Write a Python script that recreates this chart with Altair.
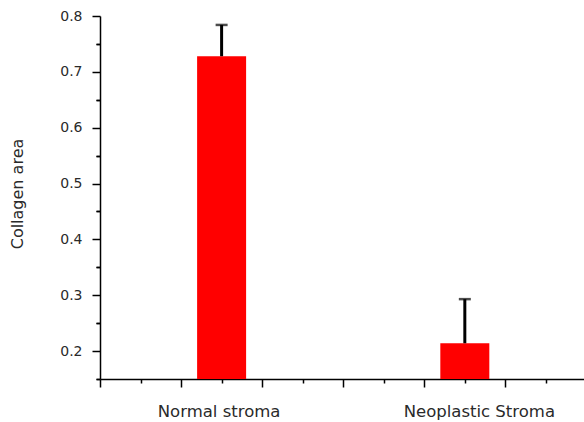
import altair as alt
import pandas as pd

categories = ["Normal stroma", "Neoplastic Stroma"]
positions = [1.5, 4.5]
means = [0.728, 0.214]
errors = [0.056, 0.079]
label_shift = [-3, 14]

y_major = [0.2, 0.3, 0.4, 0.5, 0.6, 0.7, 0.8]
y_minor = [0.15, 0.25, 0.35, 0.45, 0.55, 0.65, 0.75]
x_major = [0, 1, 2, 3, 4, 5]
x_minor = [0.5, 1.5, 2.5, 3.5, 4.5, 5.5]

df = pd.DataFrame({
    "cat": categories,
    "pos": positions,
    "mean": means,
    "top": [m + e for m, e in zip(means, errors)],
})

W, H = 484, 363
FONT = "DejaVu Sans"
TXT = "#2a2a2a"

common = dict(tickWidth=1.5, tickColor="black", domain=False, grid=False, title=None, offset=0)

x_axis_major = alt.Axis(values=x_major, tickSize=8, labels=False, orient="bottom",
                        tickWidth=1.5, tickColor="black", domainColor="black", domainWidth=1.5,
                        grid=False, title=None, offset=0)
x_axis_minor = alt.Axis(values=x_minor, tickSize=4, labels=False, orient="bottom", **common)

label_expr = " : ".join(
    f"abs(datum.value - {p}) < 0.01 ? '{c}'" for c, p in zip(categories, positions)
) + " : ''"
offset_cond = {"condition": {"test": f"abs(datum.value - {positions[1]}) < 0.01", "value": label_shift[1]},
               "value": label_shift[0]}
x_axis_labels = alt.Axis(
    values=positions, labelExpr=label_expr, labelOffset=offset_cond,
    ticks=False, tickSize=0, domain=False, orient="bottom", offset=0,
    labelFont=FONT, labelFontSize=16.5, labelColor=TXT, labelPadding=24,
    labelAngle=0, grid=False, title=None, labelOverlap=False, labelBound=False, labelFlush=False,
)

y_axis_major = alt.Axis(
    values=y_major, format=".1f", tickSize=8, orient="left", offset=0,
    labelFont=FONT, labelFontSize=14, labelColor=TXT, labelPadding=10, labelOverlap=False,
    tickWidth=1.5, tickColor="black", domainColor="black", domainWidth=1.5, grid=False,
    title="Collagen area", titleFont=FONT, titleFontSize=16, titleFontWeight="normal",
    titleColor=TXT, titleX=-75, titleY=H / 2 - 4,
)
y_axis_minor = alt.Axis(values=y_minor, tickSize=4, labels=False, orient="left", **common)
y_axis_none = alt.Axis(values=y_minor, tickSize=4, labels=False, orient="left", **common)

xs = alt.Scale(domain=[0, 5.97], nice=False, zero=False, padding=0)
ys = alt.Scale(domain=[0.15, 0.8], nice=False, zero=False, padding=0)

base = alt.Chart(df)

bars = base.mark_bar(color="#ff0000", size=49, clip=True).encode(
    x=alt.X("pos:Q", scale=xs, axis=x_axis_major),
    y=alt.Y("mean:Q", scale=ys, axis=y_axis_major),
)

stems = base.mark_rule(color="black", strokeWidth=3).encode(
    x=alt.X("pos:Q", scale=xs, axis=x_axis_minor),
    y=alt.Y("mean:Q", scale=ys, axis=y_axis_minor),
    y2="top:Q",
)

caps = base.mark_tick(color="black", orient="horizontal", size=12, thickness=2.5).encode(
    x=alt.X("pos:Q", scale=xs, axis=x_axis_labels),
    y=alt.Y("top:Q", scale=ys, axis=y_axis_none),
)

chart = alt.layer(bars, stems, caps).resolve_axis(x="independent", y="independent").properties(
    width=W, height=H,
    view=alt.ViewBackground(stroke="transparent", strokeWidth=0),
    autosize=alt.AutoSizeParams(type="none"),
    padding={"left": 100, "top": 16, "right": 0, "bottom": 43},
).configure_view(stroke="transparent", strokeWidth=0).configure(background="white")

chart.save("out.html", embed_options={"renderer": "svg", "actions": False})
